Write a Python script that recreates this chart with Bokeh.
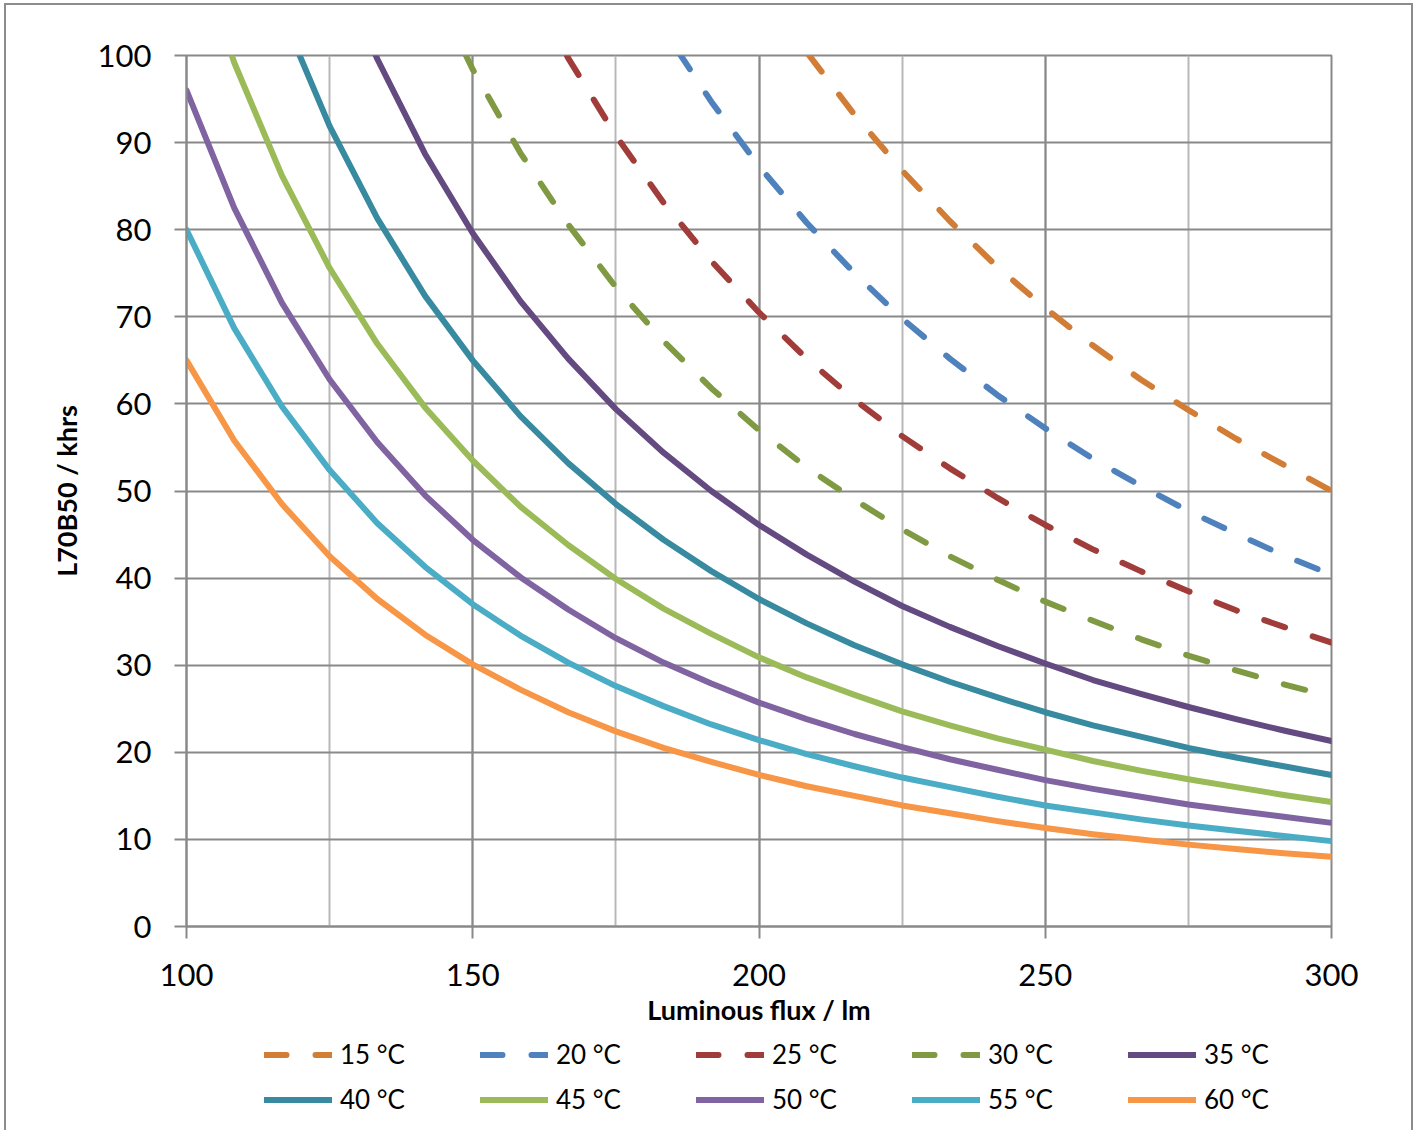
from bokeh.plotting import figure
from bokeh.layouts import column
from bokeh.models import Range1d, SingleIntervalTicker, Legend, LegendItem
from bokeh.embed import file_html
from bokeh.resources import INLINE

# Luminous flux (lm) sample points
flux = [100, 108.33, 116.67, 125, 133.33, 141.67, 150, 158.33, 166.67, 175,
        183.33, 191.67, 200, 208.33, 216.67, 225, 233.33, 241.67, 250, 258.33,
        266.67, 275, 283.33, 291.67, 300]

# L70B50 lifetime (khrs) per ambient temperature
l70_15 = [405.0, 347.9, 302.2, 265.0, 234.5, 208.9, 187.4, 169.2, 153.5, 139.8,
          128.0, 117.7, 108.5, 100.4, 93.2, 86.8, 81.0, 75.7, 71.0, 66.7,
          62.8, 59.3, 56.0, 53.0, 50.0]
l70_20 = [326.0, 280.0, 243.2, 213.3, 188.7, 168.2, 150.9, 136.2, 123.5, 112.6,
          103.0, 94.7, 87.3, 80.8, 75.0, 69.8, 65.2, 61.0, 57.2, 53.7,
          50.6, 47.7, 45.1, 42.6, 40.4]
l70_25 = [263.0, 225.9, 196.2, 172.1, 152.3, 135.7, 121.7, 109.9, 99.7, 90.8,
          83.1, 76.4, 70.5, 65.2, 60.5, 56.3, 52.6, 49.2, 46.1, 43.3,
          40.8, 38.5, 36.3, 34.4, 32.6]
l70_30 = [212.7, 182.7, 158.7, 139.2, 123.1, 109.7, 98.4, 88.8, 80.6, 73.4,
          67.2, 61.8, 57.0, 52.7, 49.0, 45.6, 42.5, 39.8, 37.3, 35.1,
          33.0, 31.1, 29.4, 27.8, 26.4]
l70_35 = [172.0, 147.7, 128.3, 112.6, 99.6, 88.7, 79.6, 71.8, 65.2, 59.4,
          54.4, 50.0, 46.1, 42.7, 39.6, 36.8, 34.4, 32.2, 30.2, 28.3,
          26.7, 25.2, 23.8, 22.5, 21.3]
l70_40 = [140.4, 120.6, 104.8, 91.9, 81.3, 72.4, 65.0, 58.6, 53.2, 48.5,
          44.4, 40.8, 37.6, 34.8, 32.3, 30.1, 28.1, 26.3, 24.6, 23.1,
          21.8, 20.5, 19.4, 18.4, 17.4]
l70_45 = [115.5, 99.2, 86.2, 75.6, 66.9, 59.6, 53.5, 48.2, 43.8, 39.9,
          36.5, 33.6, 30.9, 28.6, 26.6, 24.7, 23.1, 21.6, 20.3, 19.0,
          17.9, 16.9, 16.0, 15.1, 14.3]
l70_50 = [96.0, 82.5, 71.6, 62.8, 55.6, 49.5, 44.4, 40.1, 36.4, 33.1,
          30.3, 27.9, 25.7, 23.8, 22.1, 20.6, 19.2, 18.0, 16.8, 15.8,
          14.9, 14.0, 13.3, 12.6, 11.9]
l70_55 = [80.0, 68.7, 59.7, 52.4, 46.3, 41.3, 37.0, 33.4, 30.3, 27.6,
          25.3, 23.2, 21.4, 19.8, 18.4, 17.1, 16.0, 14.9, 13.9, 13.1,
          12.3, 11.6, 11.0, 10.4, 9.8]
l70_60 = [65.0, 55.8, 48.5, 42.5, 37.6, 33.5, 30.1, 27.2, 24.6, 22.4,
          20.5, 18.9, 17.4, 16.1, 15.0, 13.9, 13.0, 12.1, 11.3, 10.6,
          10.0, 9.4, 8.9, 8.4, 8.0]

labels = ["15 °C", "20 °C", "25 °C", "30 °C", "35 °C",
          "40 °C", "45 °C", "50 °C", "55 °C", "60 °C"]
series = [l70_15, l70_20, l70_25, l70_30, l70_35,
          l70_40, l70_45, l70_50, l70_55, l70_60]
colors = ["#D17D35", "#4F81BD", "#A03C39", "#7F9A42", "#634A80",
          "#378AA0", "#9BBB59", "#8064A2", "#4BACC6", "#F79646"]
dashed = [True, True, True, True, False, False, False, False, False, False]

FONT = "Lato"
GRID = "#898989"


def style_line(fig, vals, col, dsh):
    return fig.line(flux, vals, line_color=col, line_width=6,
                    line_dash="22 29" if dsh else "solid",
                    line_cap="round", line_join="round")


# main chart
p = figure(width=1405, height=1032, title=None,
           x_range=Range1d(100, 300), y_range=Range1d(0, 100),
           output_backend="svg", toolbar_location=None,
           min_border_left=180, min_border_right=80,
           min_border_top=50, min_border_bottom=111,
           background_fill_color="white", border_fill_color="white")

p.outline_line_color = GRID
p.outline_line_width = 2

p.xaxis.ticker = SingleIntervalTicker(interval=50, num_minor_ticks=2)
p.yaxis.ticker = SingleIntervalTicker(interval=10, num_minor_ticks=0)

p.xgrid.grid_line_color = GRID
p.xgrid.grid_line_width = 2
p.xgrid.minor_grid_line_color = "#b8b8b8"
p.xgrid.minor_grid_line_width = 2
p.ygrid.grid_line_color = GRID
p.ygrid.grid_line_width = 2

for ax in (p.xaxis, p.yaxis):
    ax.axis_line_color = GRID
    ax.axis_line_width = 2
    ax.major_tick_line_color = GRID
    ax.major_tick_line_width = 2
    ax.major_tick_out = 12
    ax.major_tick_in = 0
    ax.minor_tick_out = 0
    ax.minor_tick_in = 0
    ax.major_label_text_font = FONT
    ax.major_label_text_font_size = "31px"
    ax.major_label_text_color = "black"
    ax.axis_label_text_font = FONT
    ax.axis_label_text_font_style = "bold"
    ax.axis_label_text_font_size = "27px"
    ax.axis_label_text_color = "black"

p.xaxis.axis_label = "Luminous flux / lm"
p.yaxis.axis_label = "L70B50 / khrs"
p.xaxis.major_label_standoff = 25
p.yaxis.major_label_standoff = 23
p.xaxis.axis_label_standoff = 4
p.yaxis.axis_label_standoff = 12

for vals, col, dsh in zip(series, colors, dashed):
    style_line(p, vals, col, dsh)

# legend strip: the same series, kept outside its view so only the key shows
k = figure(width=1405, height=93, title=None,
           x_range=Range1d(0, 1), y_range=Range1d(0, 1),
           output_backend="svg", toolbar_location=None,
           x_axis_type=None, y_axis_type=None,
           min_border=0, min_border_left=0, min_border_right=0,
           min_border_top=0, min_border_bottom=0,
           background_fill_color="white", border_fill_color="white")
k.outline_line_color = None
k.grid.visible = False

items = []
for lab, vals, col, dsh in zip(labels, series, colors, dashed):
    r = style_line(k, vals, col, dsh)
    items.append(LegendItem(label=lab, renderers=[r]))

legend = Legend(items=items, location=(78, 8.5), orientation="horizontal",
                ncols=5, glyph_width=68, glyph_height=45, label_height=45,
                label_width=140, label_standoff=8, spacing=0, padding=0,
                margin=0, border_line_alpha=0, background_fill_alpha=0,
                label_text_font=FONT, label_text_font_size="26px",
                label_text_color="black")
k.add_layout(legend)

layout = column(p, k, spacing=0,
                styles={"border-top": "2px solid #8c8c8c",
                        "border-left": "2px solid #8c8c8c",
                        "border-right": "2px solid #8c8c8c",
                        "box-sizing": "content-box",
                        "margin": "3px 0px 0px 4px"})

open("out.html", "w").write(file_html(layout, INLINE))
